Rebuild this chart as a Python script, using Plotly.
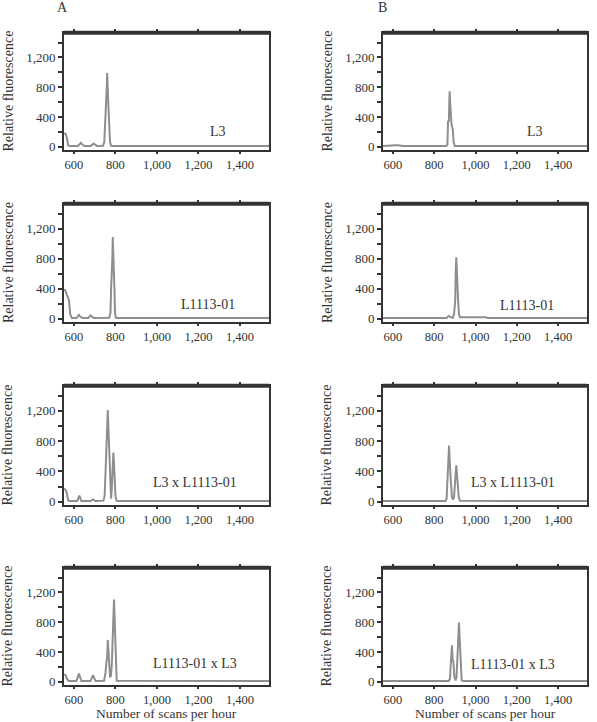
import plotly.graph_objects as go
from plotly.subplots import make_subplots

# ---------------- data ----------------
panel_labels = ["L3", "L3", "L1113-01", "L1113-01",
                "L3 x L1113-01", "L3 x L1113-01",
                "L1113-01 x L3", "L1113-01 x L3"]
column_titles = ["A", "B"]

x_ticks = [600, 800, 1000, 1200, 1400]
x_tick_labels = ["600", "800", "1,000", "1,200", "1,400"]
y_ticks = [0, 200, 400, 600, 800, 1000, 1200, 1400]
y_tick_labels = ["0", "", "400", "", "800", "", "1,200", ""]

# Column A
a1_x = [552, 560, 566, 572, 580, 600, 618, 626, 633, 641, 650, 680, 688, 695, 702, 712,
        740, 746, 750, 753, 756, 758, 760, 762, 764, 767, 770, 774, 780, 800, 1540]
a1_y = [180, 175, 120, 20, 10, 10, 10, 30, 55, 30, 10, 10, 30, 45, 30, 10,
        15, 60, 300, 480, 500, 800, 990, 800, 500, 480, 300, 60, 12, 10, 10]

a2_x = [552, 558, 564, 570, 576, 582, 590, 612, 618, 624, 630, 640, 668, 674, 680, 686, 696,
        770, 776, 779, 782, 785, 787, 789, 792, 795, 798, 802, 810, 1540]
a2_y = [390, 380, 330, 280, 250, 60, 10, 10, 30, 53, 30, 10, 10, 30, 45, 30, 10,
        15, 80, 400, 565, 800, 1090, 800, 565, 400, 80, 15, 10, 10]

a3_x = [552, 558, 565, 572, 580, 616, 626, 636, 680, 692, 704,
        742, 748, 752, 756, 759, 763, 767, 770, 773, 776, 779, 782, 785, 788, 790, 793, 796,
        800, 805, 820, 1540]
a3_y = [170, 165, 120, 20, 10, 10, 80, 10, 10, 30, 10,
        15, 80, 450, 626, 900, 1210, 900, 626, 300, 50, 40, 150, 320, 500, 650, 500, 320,
        80, 12, 10, 10]

a4_x = [552, 560, 568, 576, 612, 624, 636, 680, 692, 704,
        745, 752, 756, 760, 763, 766, 770, 774, 778, 782, 786, 790, 793, 796, 799, 802, 806, 1540]
a4_y = [100, 90, 30, 10, 10, 110, 10, 10, 90, 10,
        15, 120, 250, 330, 560, 330, 250, 60, 80, 200, 590, 850, 1105, 850, 590, 150, 15, 10]

# Column B
b1_x = [552, 605, 615, 625, 640, 650, 858, 864, 867, 871, 873, 875, 877, 880, 884, 890, 894,
        900, 1540]
b1_y = [10, 10, 20, 22, 15, 10, 10, 30, 340, 343, 600, 745, 600, 343, 300, 230, 60,
        12, 10]

b2_x = [552, 860, 866, 870, 876, 886, 890, 896, 899, 902, 904, 907, 910, 913, 916, 920, 925,
        1050, 1060, 1540]
b2_y = [10, 10, 30, 40, 25, 12, 15, 60, 230, 250, 620, 820, 620, 250, 230, 60, 20,
        20, 10, 10]

b3_x = [552, 855, 860, 864, 868, 870, 872, 874, 877, 881, 886, 891, 896, 900, 904, 907, 910,
        914, 919, 925, 1540]
b3_y = [10, 10, 40, 370, 420, 600, 742, 600, 400, 250, 60, 30, 60, 320, 380, 480, 380,
        320, 60, 12, 10]

b4_x = [552, 870, 876, 880, 883, 886, 889, 893, 898, 903, 908, 911, 914, 917, 920, 923, 926,
        929, 933, 940, 1540]
b4_y = [10, 10, 40, 270, 300, 490, 300, 270, 60, 20, 60, 205, 445, 600, 795, 600, 445,
        150, 20, 10, 10]

series = [(a1_x, a1_y), (b1_x, b1_y), (a2_x, a2_y), (b2_x, b2_y),
          (a3_x, a3_y), (b3_x, b3_y), (a4_x, a4_y), (b4_x, b4_y)]

# ---------------- layout geometry ----------------
W, H = 597, 722
col_px = [(64, 269), (383, 587)]
row_px = [(33, 151), (205, 324), (388, 508), (571, 689)]

FONT = "'Liberation Serif', 'Times New Roman', Times, serif"
INK = "#333333"
LINE = "#8e8e8e"

fig = make_subplots(rows=4, cols=2)

annotations = []
shapes = []
for i, (xs, ys) in enumerate(series):
    r, c = i // 2, i % 2
    fig.add_trace(go.Scatter(x=xs, y=ys, mode="lines",
                             line=dict(color=LINE, width=2),
                             showlegend=False, hoverinfo="skip"),
                  row=r + 1, col=c + 1)
    x0, x1 = col_px[c][0] / W, col_px[c][1] / W
    yt, yb = 1 - row_px[r][0] / H, 1 - row_px[r][1] / H
    idx = "" if i == 0 else str(i + 1)
    fig.layout["xaxis" + idx].update(domain=[x0, x1])
    fig.layout["yaxis" + idx].update(domain=[yb, yt])
    # thick top border
    shapes.append(dict(type="line", xref="paper", yref="paper", x0=x0, x1=x1,
                       y0=yt, y1=yt, line=dict(color=INK, width=4)))
    # panel label
    lab_pos = [(218, 132), (535, 132), (208, 306), (527, 307),
               (195, 485), (513, 485), (195, 667), (513, 668)][i]
    annotations.append(dict(text=panel_labels[i], x=lab_pos[0] / W, y=1 - lab_pos[1] / H,
                            xref="paper", yref="paper", showarrow=False,
                            xanchor="center", yanchor="middle",
                            font=dict(family=FONT, size=14, color=INK)))
    # y axis title
    ycen = (yt + yb) / 2
    annotations.append(dict(text="Relative fluorescence", x=(8 if c == 0 else 327) / W, y=ycen,
                            xref="paper", yref="paper", showarrow=False, textangle=-90,
                            xanchor="center", yanchor="middle",
                            font=dict(family=FONT, size=14, color=INK)))

fig.update_xaxes(range=[552, 1540], tickvals=x_ticks, ticktext=x_tick_labels,
                 showline=True, mirror="ticks", linecolor=INK, linewidth=2,
                 ticks="outside", ticklen=2, tickwidth=1.5, tickcolor=INK,
                 showgrid=False, zeroline=False,
                 tickfont=dict(family=FONT, size=12.5, color=INK))
fig.update_yaxes(range=[-45, 1530], tickvals=y_ticks, ticktext=y_tick_labels,
                 showline=True, mirror=True, linecolor=INK, linewidth=2,
                 ticks="outside", ticklen=4, tickwidth=1.5, tickcolor=INK,
                 showgrid=False, zeroline=False,
                 tickfont=dict(family=FONT, size=13, color=INK))

for c, t in enumerate(column_titles):
    annotations.append(dict(text=t, x=(62 if c == 0 else 382) / W, y=1 - 8 / H,
                            xref="paper", yref="paper", showarrow=False,
                            xanchor="center", yanchor="middle",
                            font=dict(family=FONT, size=14, color=INK)))
    xc = (col_px[c][0] + col_px[c][1]) / 2 / W
    annotations.append(dict(text="Number of scans per hour", x=xc, y=1 - 717 / H,
                            xref="paper", yref="paper", showarrow=False,
                            xanchor="center", yanchor="middle",
                            font=dict(family=FONT, size=13.5, color=INK)))

fig.update_layout(width=W, height=H, margin=dict(l=0, r=0, t=0, b=0),
                  paper_bgcolor="white", plot_bgcolor="white",
                  annotations=annotations, shapes=shapes)

fig.write_html("out.html")
